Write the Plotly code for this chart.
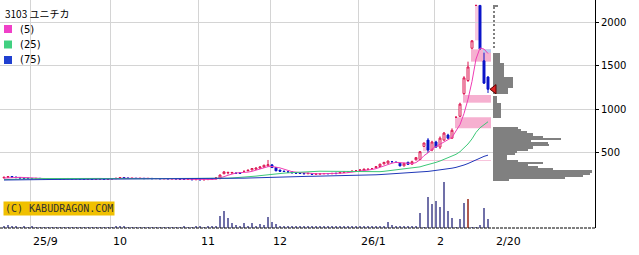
import plotly.graph_objects as go
import pandas as pd
import numpy as np

# ---------------- data ----------------
# trading-day index: 0 = 2025-09-01 ; last = 2026-02-20
first_day = -7
opens = [214,222,230,224,218,214,211,
         209,206,209,208,205,207,204,206,203,205,208,204,206,203,201,203,200,202,204,201,
         203,206,210,218,213,209,211,208,210,207,209,206,208,205,207,204,206,203,200,197,199,194,
         196,193,195,208,203,206,262,272,270,268,273,290,296,306,314,326,338,352,
         364,334,304,292,282,283,273,270,266,262,262,258,260,262,265,263,268,270,278,286,287,297,
         300,298,310,322,332,345,375,383,400,393,383,352,394,372,422,425,
         575,648,534,626,568,648,705,670,910,920,1180,1330,1700,2190,2190,1555,1370]
highs = [226,233,234,227,221,217,215,
         213,211,214,211,209,210,208,209,207,210,211,208,210,206,205,207,204,206,208,205,
         208,212,220,222,216,213,214,212,213,211,212,210,211,209,210,208,209,206,203,201,202,198,
         199,197,201,212,219,252,290,282,282,272,276,296,306,326,332,345,364,420,
         368,338,308,296,288,286,277,273,270,270,265,264,266,268,270,268,272,279,284,290,295,301,
         309,318,318,327,346,376,396,412,406,399,388,386,398,412,452,520,
         615,670,640,640,690,740,720,782,910,1076,1380,1546,1790,2190,2190,1649,1380]
lows = [212,219,222,216,212,208,207,
        204,203,205,203,201,203,200,202,199,202,203,200,202,198,197,199,196,198,200,197,
        200,203,208,211,207,205,206,204,205,203,204,202,203,201,202,200,201,198,195,193,192,190,
        191,189,193,198,201,204,258,255,262,262,264,284,292,302,310,322,334,345,
        330,292,288,284,276,270,266,263,259,259,254,253,256,258,260,258,262,268,274,281,284,292,
        296,295,306,318,328,342,370,380,394,386,348,348,366,368,420,423,
        570,500,520,560,545,640,660,662,910,912,1164,1313,1687,2190,1690,1290,1187]
closes = [222,229,224,218,214,211,209,
          206,209,208,205,207,204,206,203,205,208,204,206,203,201,203,200,202,204,201,203,
          206,210,218,213,209,211,208,210,207,209,206,208,205,207,204,206,203,200,197,199,194,196,
          193,195,199,200,215,248,284,278,277,268,267,290,303,322,328,341,360,366,
          333,296,291,288,282,273,269,265,262,267,257,260,262,265,263,266,264,276,282,286,292,297,
          306,316,315,322,343,372,393,408,400,393,352,382,370,400,447,515,
          615,534,626,568,670,728,670,760,910,1060,1360,1485,1785,2190,1690,1300,1230]
# volume, thousand shares
volumes = [500,600,300,250,200,250,200,
           250,200,200,150,200,150,200,150,200,200,150,200,150,200,150,200,150,200,150,200,
           200,250,400,250,200,200,150,200,150,200,150,200,150,200,150,200,150,200,250,200,200,250,
           250,200,250,300,400,2400,3400,2000,1000,600,500,1000,500,1000,500,800,600,2200,
           1200,800,500,400,300,300,300,300,300,300,300,300,300,300,300,300,300,300,300,400,300,400,
           300,300,300,300,400,400,400,1200,600,400,400,400,400,400,400,3000,
           150,6200,4800,5400,4200,9200,3400,2000,100,1800,5000,5800,150,150,600,4000,1800]
highlight_volume_day = 109
# closes before the first visible day (for moving averages)
prior_closes = [168,170,172,171,174,176,175,178,180,182,181,184,186,185,188,190,
                192,191,194,196,198,197,200,203,205,204,207,209,211,213]

# price gaps: (low, high, gap day, fill day or None)
gap_low = [412, 520, 782, 1076, 1546, 1790, 1649]
gap_high = [420, 570, 910, 1164, 1687, 2190, 1687]
gap_day = [96, 98, 106, 108, 110, 111, 113]
gap_fill = [None, 99, None, None, None, 112, None]
gap_up = [True, True, True, True, True, True, False]

# volume-by-price profile
vp_price = [187.5,212.5,237.5,262.5,287.5,312.5,337.5,362.5,387.5,412.5,437.5,462.5,487.5,
            512.5,537.5,562.5,587.5,612.5,637.5,662.5,687.5,712.5,737.5,762.5,787.5,
            912.5,937.5,962.5,987.5,1012.5,1037.5,1062.5,1087.5,1112.5,1137.5,
            1187.5,1212.5,1237.5,1262.5,1287.5,1312.5,1337.5,1362.5,1387.5,1412.5,1437.5,
            1462.5,1487.5,1512.5,1537.5,1562.5,1587.5,1612.5,1637.5,
            1712.5,1762.5,1812.5,1862.5,1912.5,1962.5,2012.5,2062.5,2112.5,2162.5,2187.5]
vp_vol = [16,72,90,97,99,60,45,35,50,25,14,14,22,
          24,35,40,56,55,38,68,50,40,34,28,25,
          8,8,8,8,8,8,8,4,4,4,
          15,15,15,20,20,20,20,20,11,11,11,
          11,11,11,7,7,7,7,7,
          2,2,2,2,2,2,2,2,2,2,5]

tick_pos = [-0.5, 19.5, 41.5, 59.5, 81.5, 100.5, 115.25]
tick_text = ["25/9", "10", "11", "12", "26/1", "2", "2/20"]
grid_days = tick_pos[:6]
price_ticks = [500, 1000, 1500, 2000]

title_text = "3103 ユニチカ"
ma_windows = [5, 25, 75]
ma_colors = ["#F03CB4", "#3CC878", "#2038B8"]
legend_colors = ["#F040C8", "#40D080", "#2040D0"]

# ---------------- figure ----------------
days = np.arange(first_day, first_day + len(closes))
last_day = days[-1]
W, H = 639, 255
plot_w, plot_h = 595, 228
x_lo = first_day - 1
x_hi = x_lo + plot_w / 4

all_close = pd.Series(prior_closes + closes, dtype=float)
fig = go.Figure()

shapes = []
for lo, hi, d, f, up in zip(gap_low, gap_high, gap_day, gap_fill, gap_up):
    x1 = (f if f is not None else last_day + 0.75)
    if up:
        col = "#F6B0D0" if f is None else "#F8C8DE"
    else:
        col = "#B8CCF0"
    shapes.append(dict(type="rect", xref="x", yref="y", x0=d - 0.25, x1=x1, y0=lo, y1=hi,
                       fillcolor=col, line=dict(width=0), layer="below"))

# volume profile
fig.add_trace(go.Bar(y=vp_price, x=[v * 0.25 for v in vp_vol], base=last_day + 1.25,
                     orientation="h", width=25, marker=dict(color="#808080", line=dict(width=0)),
                     hoverinfo="skip", showlegend=False))

# moving averages
for w, c in zip(ma_windows, ma_colors):
    ma = all_close.rolling(w, min_periods=1).mean().iloc[len(prior_closes):].values
    fig.add_trace(go.Scatter(x=days, y=ma, mode="lines", line=dict(color=c, width=1),
                             hoverinfo="skip", showlegend=False))

# candles
fig.add_trace(go.Candlestick(x=days, open=opens, high=highs, low=lows, close=closes,
                             increasing=dict(line=dict(color="#DC1450", width=1), fillcolor="#FFFFFF"),
                             decreasing=dict(line=dict(color="#0A14C8", width=1), fillcolor="#0A14C8"),
                             whiskerwidth=0, showlegend=False))

# current price marker
fig.add_trace(go.Scatter(x=[last_day + 1.5], y=[closes[-1]], mode="markers",
                         marker=dict(symbol="triangle-left", size=8, color="#E02020",
                                     line=dict(color="#600000", width=1)),
                         hoverinfo="skip", showlegend=False))

# volume
vcol = ["#B05A50" if d == highlight_volume_day else "#7070A8" for d in days]
fig.add_trace(go.Bar(x=days, y=volumes, yaxis="y2", width=0.25,
                     marker=dict(color=vcol, line=dict(width=0)), showlegend=False))

annotations = []
annotations.append(dict(text=title_text, xref="paper", yref="paper",
                        x=3 / plot_w, y=1 - 14 / plot_h, xanchor="left", yanchor="middle",
                        showarrow=False, font=dict(size=10, color="#000000",
                                                   family="Noto Sans CJK JP")))
for i, (w, c) in enumerate(zip(ma_windows, legend_colors)):
    yc = 29 + i * 15.5
    shapes.append(dict(type="rect", xref="paper", yref="paper",
                       x0=4 / plot_w, x1=12 / plot_w, y0=1 - (yc + 4) / plot_h, y1=1 - (yc - 4) / plot_h,
                       fillcolor=c, line=dict(width=0)))
    annotations.append(dict(text=f"({w})", xref="paper", yref="paper",
                            x=18 / plot_w, y=1 - yc / plot_h, xanchor="left", yanchor="middle",
                            showarrow=False, font=dict(size=10, color="#000000",
                                                       family="DejaVu Sans")))
# watermark
annotations.append(dict(text="(C) KABUDRAGON.COM", xref="paper", yref="paper",
                        x=3 / plot_w, y=1 - 208 / plot_h, xanchor="left", yanchor="middle",
                        showarrow=False, bgcolor="#F0C000", borderpad=1,
                        font=dict(size=10, color="#333333", family="DejaVu Sans Mono")))
# x tick labels
for p, t in zip(tick_pos, tick_text):
    annotations.append(dict(text=t, xref="x", yref="paper", x=p, y=0, xanchor="left",
                            yanchor="top", xshift=1, yshift=-5, showarrow=False,
                            font=dict(size=11, color="#000000", family="DejaVu Sans")))

# bottom axis line (drawn per trading day, dashed look)
shapes.append(dict(type="line", xref="x", yref="paper", x0=x_lo, x1=x_hi, y0=0, y1=0,
                   line=dict(color="#000000", width=1, dash="3px,1px")))

fig.update_layout(
    width=W, height=H, margin=dict(l=0, r=W - plot_w, t=0, b=H - plot_h),
    paper_bgcolor="white", plot_bgcolor="white", showlegend=False, bargap=0,
    shapes=shapes, annotations=annotations,
    xaxis=dict(range=[x_lo, x_hi], tickmode="array",
               tickvals=grid_days, showticklabels=False, showgrid=True, gridcolor="#D4D4D4",
               gridwidth=1, zeroline=False, showline=False,
               ticks="", rangeslider=dict(visible=False), fixedrange=True),
    yaxis=dict(range=[-359, 2252], side="right", tickmode="array", tickvals=price_ticks,
               ticktext=[str(v) for v in price_ticks], showgrid=True, gridcolor="#D4D4D4",
               zeroline=False, showline=True, linecolor="#000000", linewidth=1,
               ticks="outside", ticklen=3, tickcolor="#000000",
               tickfont=dict(size=10, color="#000000", family="DejaVu Sans"), fixedrange=True),
    yaxis2=dict(range=[0, 200 * plot_h], overlaying="y", visible=False, fixedrange=True),
)
fig.write_html("out.html")
